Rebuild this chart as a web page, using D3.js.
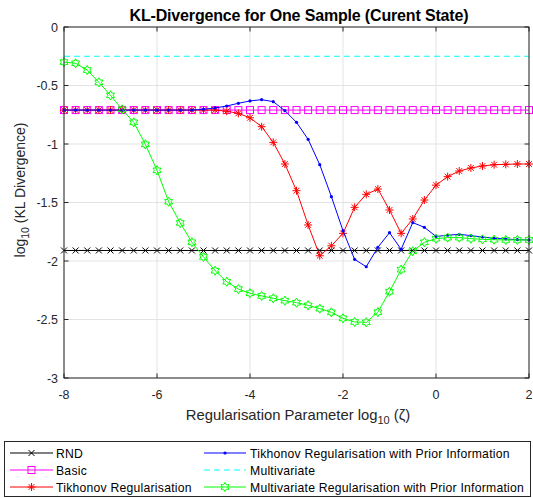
<!DOCTYPE html>
<html>
<head>
<meta charset="utf-8">
<script src="https://cdn.jsdelivr.net/npm/d3@7"></script>
<style>
  html, body { margin: 0; padding: 0; background: #fff; }
  svg { display: block; font-family: "Liberation Sans", Arial, Helvetica, sans-serif; }
</style>
</head>
<body>
<svg id="chart" width="533" height="498"></svg>
<script>
// Regularisation parameter grid, log10(zeta)
const logZeta = [-8, -7.75, -7.5, -7.25, -7, -6.75, -6.5, -6.25, -6, -5.75, -5.5, -5.25, -5, -4.75, -4.5, -4.25,
  -4, -3.75, -3.5, -3.25, -3, -2.75, -2.5, -2.25, -2, -1.75, -1.5, -1.25, -1, -0.75, -0.5, -0.25,
  0, 0.25, 0.5, 0.75, 1, 1.25, 1.5, 1.75, 2];

// Flat reference levels (independent of zeta)
const rndLevel = -1.91;
const basicLevel = -0.71;
const multivariateLevel = -0.25;

const tikhonov = [-0.71, -0.71, -0.71, -0.71, -0.71, -0.71, -0.71, -0.71, -0.71, -0.71, -0.71, -0.71, -0.71,
  -0.71, -0.72, -0.738, -0.776, -0.852, -0.986, -1.171, -1.399, -1.692, -1.955, -1.87, -1.764, -1.541,
  -1.43, -1.385, -1.564, -1.764, -1.641, -1.479, -1.352, -1.279, -1.231, -1.205, -1.188, -1.177, -1.174,
  -1.171, -1.171];

const tikhonovPrior = [-0.71, -0.71, -0.71, -0.71, -0.71, -0.71, -0.71, -0.71, -0.71, -0.71, -0.71, -0.71,
  -0.703, -0.692, -0.675, -0.652, -0.632, -0.621, -0.638, -0.715, -0.815, -0.96, -1.177, -1.45, -1.741,
  -1.986, -2.049, -1.883, -1.758, -1.9, -1.672, -1.712, -1.79, -1.78, -1.772, -1.783, -1.795, -1.806,
  -1.812, -1.818, -1.82];

const multivariatePrior = [-0.3, -0.31, -0.368, -0.473, -0.584, -0.704, -0.815, -1.003, -1.225, -1.493,
  -1.675, -1.84, -1.965, -2.083, -2.177, -2.24, -2.276, -2.299, -2.319, -2.339, -2.356, -2.379, -2.407,
  -2.439, -2.49, -2.521, -2.524, -2.437, -2.262, -2.074, -1.916, -1.84, -1.809, -1.8, -1.8, -1.809,
  -1.815, -1.818, -1.82, -1.82, -1.82];

const xTicks = [-8, -6, -4, -2, 0, 2];
const yTicks = [0, -0.5, -1, -1.5, -2, -2.5, -3];
const yTickLabels = ["0", "-0.5", "-1", "-1.5", "-2", "-2.5", "-3"];

const legendNames = ["RND", "Basic", "Tikhonov Regularisation",
  "Tikhonov Regularisation with Prior Information", "Multivariate",
  "Multivariate Regularisation with Prior Information"];

const svg = d3.select("#chart");
const plot = { left: 64, right: 529, top: 27, bottom: 378 };
const axisColor = "#262626";
const gridColor = "#e3e3e3";

const x = d3.scaleLinear().domain([-8, 2]).range([plot.left, plot.right]);
const y = d3.scaleLinear().domain([-3, 0]).range([plot.bottom, plot.top]);

// Grid
const grid = svg.append("g");
grid.selectAll("line.gx").data(xTicks).join("line")
  .attr("x1", d => x(d)).attr("x2", d => x(d))
  .attr("y1", plot.top).attr("y2", plot.bottom)
  .attr("stroke", gridColor).attr("stroke-width", 1);
grid.selectAll("line.gy").data(yTicks).join("line")
  .attr("x1", plot.left).attr("x2", plot.right)
  .attr("y1", d => y(d)).attr("y2", d => y(d))
  .attr("stroke", gridColor).attr("stroke-width", 1);

// Marker shapes
function hexagramPath(R) {
  const pts = [];
  for (let k = 0; k < 12; k++) {
    const a = (-90 + 30 * k) * Math.PI / 180;
    const r = k % 2 === 0 ? R : R / Math.sqrt(3);
    pts.push([r * Math.cos(a), r * Math.sin(a)]);
  }
  return "M" + pts.map(p => p.join(",")).join("L") + "Z";
}
function drawMarker(g, kind, color) {
  if (kind === "x") {
    const s = 3;
    g.append("path").attr("d", `M${-s},${-s}L${s},${s}M${-s},${s}L${s},${-s}`)
      .attr("stroke", color).attr("stroke-width", 1).attr("fill", "none");
  } else if (kind === "square") {
    g.append("rect").attr("x", -3.5).attr("y", -3.5).attr("width", 7).attr("height", 7)
      .attr("stroke", color).attr("stroke-width", 1).attr("fill", "none");
  } else if (kind === "asterisk") {
    const s = 4, d = 2.9;
    g.append("path").attr("d", `M0,${-s}L0,${s}M${-s},0L${s},0M${-d},${-d}L${d},${d}M${-d},${d}L${d},${-d}`)
      .attr("stroke", color).attr("stroke-width", 1).attr("fill", "none");
  } else if (kind === "dot") {
    g.append("circle").attr("r", 1.6).attr("fill", color);
  } else if (kind === "hexagram") {
    g.append("path").attr("d", hexagramPath(4.6))
      .attr("stroke", color).attr("stroke-width", 1).attr("fill", "none");
  }
}

const series = [
  { name: legendNames[0], values: logZeta.map(() => rndLevel), color: "#000000", marker: "x" },
  { name: legendNames[1], values: logZeta.map(() => basicLevel), color: "#ff00ff", marker: "square" },
  { name: legendNames[2], values: tikhonov, color: "#ff0000", marker: "asterisk" },
  { name: legendNames[3], values: tikhonovPrior, color: "#0000ff", marker: "dot" },
  { name: legendNames[4], values: logZeta.map(() => multivariateLevel), color: "#00ffff", marker: null, dash: "6,4" },
  { name: legendNames[5], values: multivariatePrior, color: "#00ff00", marker: "hexagram" }
];

const line = d3.line().x(d => x(d[0])).y(d => y(d[1]));
const plotArea = svg.append("g");
series.forEach(s => {
  const pts = logZeta.map((z, i) => [z, s.values[i]]);
  const g = plotArea.append("g");
  g.append("path").attr("d", line(pts))
    .attr("fill", "none").attr("stroke", s.color).attr("stroke-width", 1)
    .attr("stroke-dasharray", s.dash || null);
  if (s.marker) {
    pts.forEach(p => {
      const m = g.append("g").attr("transform", `translate(${x(p[0])},${y(p[1])})`);
      drawMarker(m, s.marker, s.color);
    });
  }
});

// Axes box and ticks
const axes = svg.append("g");
axes.append("rect").attr("x", plot.left).attr("y", plot.top)
  .attr("width", plot.right - plot.left).attr("height", plot.bottom - plot.top)
  .attr("fill", "none").attr("stroke", axisColor).attr("stroke-width", 1);
const tl = 4.5;
xTicks.forEach(t => {
  axes.append("line").attr("x1", x(t)).attr("x2", x(t)).attr("y1", plot.bottom).attr("y2", plot.bottom - tl).attr("stroke", axisColor);
  axes.append("line").attr("x1", x(t)).attr("x2", x(t)).attr("y1", plot.top).attr("y2", plot.top + tl).attr("stroke", axisColor);
});
yTicks.forEach(t => {
  axes.append("line").attr("x1", plot.left).attr("x2", plot.left + tl).attr("y1", y(t)).attr("y2", y(t)).attr("stroke", axisColor);
  axes.append("line").attr("x1", plot.right).attr("x2", plot.right - tl).attr("y1", y(t)).attr("y2", y(t)).attr("stroke", axisColor);
});

// Tick labels
axes.selectAll("text.xt").data(xTicks).join("text")
  .attr("x", d => x(d)).attr("y", 398.5).attr("text-anchor", "middle")
  .attr("font-size", 12.5).attr("fill", axisColor).text(d => d);
axes.selectAll("text.yt").data(yTicks).join("text")
  .attr("x", plot.left - 6).attr("y", d => y(d) + 4.5).attr("text-anchor", "end")
  .attr("font-size", 12.5).attr("fill", axisColor).text((d, i) => yTickLabels[i]);

// Title
svg.append("text").attr("x", 299).attr("y", 21)
  .attr("text-anchor", "middle").attr("font-size", 16).attr("font-weight", "bold")
  .attr("textLength", 339).attr("lengthAdjust", "spacing")
  .attr("fill", "#000").text("KL-Divergence for One Sample (Curent State)");

// Axis labels
const xl = svg.append("text").attr("x", 298).attr("y", 419.5).attr("text-anchor", "middle")
  .attr("font-size", 14.8).attr("fill", axisColor);
xl.append("tspan").text("Regularisation Parameter log");
xl.append("tspan").attr("font-size", 11).attr("dy", 4).text("10");
xl.append("tspan").attr("dy", -4).text(" (ζ)");

const yl = svg.append("text").attr("transform", "translate(25,190) rotate(-90)")
  .attr("text-anchor", "middle").attr("font-size", 14).attr("fill", axisColor);
yl.append("tspan").text("log");
yl.append("tspan").attr("font-size", 10.5).attr("dy", 4).text("10");
yl.append("tspan").attr("dy", -4).text(" (KL Divergence)");

// Legend
const legend = svg.append("g");
legend.append("rect").attr("x", 4.5).attr("y", 441.5).attr("width", 526).attr("height", 55)
  .attr("fill", "#fff").attr("stroke", axisColor).attr("stroke-width", 1);
const rowsY = [453, 470, 487];
const cols = [{ x1: 10, x2: 53, tx: 56 }, { x1: 204, x2: 246, tx: 250 }];
const legendTexts = [];
series.forEach((s, i) => {
  const c = cols[Math.floor(i / 3)];
  const ry = rowsY[i % 3];
  legend.append("line").attr("x1", c.x1).attr("x2", c.x2).attr("y1", ry).attr("y2", ry)
    .attr("stroke", s.color).attr("stroke-width", 1).attr("stroke-dasharray", s.dash || null);
  if (s.marker) {
    const m = legend.append("g").attr("transform", `translate(${(c.x1 + c.x2) / 2},${ry})`);
    drawMarker(m, s.marker, s.color);
  }
  legendTexts.push(legend.append("text").attr("x", c.tx).attr("y", ry + 4.5).attr("font-size", 12.2)
    .attr("fill", "#000").text(s.name));
});
// Spread legend letters so the longest entry ends just inside the box
const longest = legendTexts[5];
const natural = longest.node().getComputedTextLength();
const nChars = legendNames[5].length;
const spacing = Math.max(0, Math.min(0.6, (274 - natural) / nChars));
legendTexts.forEach(t => t.attr("letter-spacing", spacing));
</script>
</body>
</html>
